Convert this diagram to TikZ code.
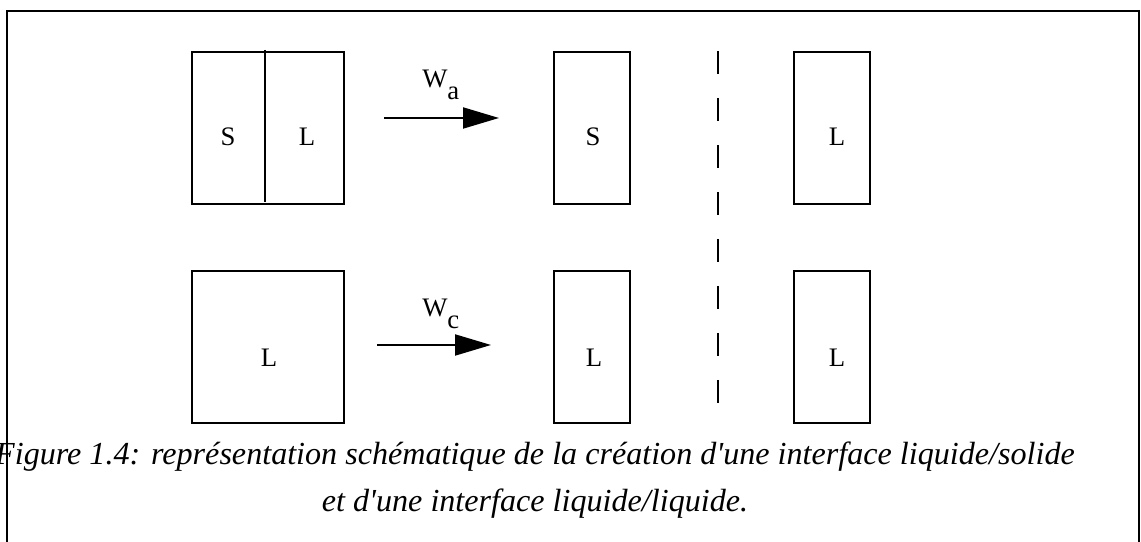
\documentclass[tikz,border=0pt]{standalone}
\usepackage{fontspec}
\setmainfont{Liberation Serif}
\usetikzlibrary{arrows.meta}

\begin{document}
\begin{tikzpicture}[box/.style={draw,line width=1.4pt,minimum height=3.8cm,inner sep=0pt},
  wide/.style={box,minimum width=3.8cm},
  narrow/.style={box,minimum width=1.9cm},
  lbl/.style={font=\fontsize{19}{22}\selectfont,inner sep=0pt},
  work/.style={font=\fontsize{19}{22}\selectfont,inner sep=0pt,anchor=base west},
  flow/.style={line width=1.4pt,-{Triangle[length=0.9cm,width=0.525cm]}},
  cutline/.style={line width=1.4pt,dash pattern=on 0.575cm off 0.6cm},
  legend/.style={font=\itshape\fontsize{22.85}{33}\selectfont,inner sep=0pt,anchor=base}]

\useasboundingbox (0,0) rectangle (28.525,13.55);
\draw[line width=1.6pt] (0.175,-0.5) -- (0.175,13.275) -- (28.475,13.275) -- (28.475,-0.5);

\node[wide] (SL) at (6.7,10.34) {};
\node[narrow] (S) at (14.79,10.34) {};
\node[narrow] (L) at (20.8,10.34) {};
\node[wide] (LL) at (6.7,4.88) {};
\node[narrow] (Lm) at (14.79,4.88) {};
\node[narrow] (Lr) at (20.8,4.88) {};

\draw[line width=1.4pt] (6.625,12.3) -- (6.625,8.5);

\node[lbl] (s1) at (5.7,10.125) {S};
\node[lbl] (l1) at (7.675,10.125) {L};
\node[lbl] (s2) at (14.825,10.125) {S};
\node[lbl] (l2) at (20.925,10.125) {L};
\node[lbl] (l3) at (6.725,4.6) {L};
\node[lbl] (l4) at (14.85,4.6) {L};
\node[lbl] (l5) at (20.925,4.6) {L};

\coordinate (wa0) at (9.6,10.6);
\coordinate (wa1) at (12.475,10.6);
\coordinate (wc0) at (9.425,4.925);
\coordinate (wc1) at (12.275,4.925);
\draw[flow] (wa0) -- (wa1);
\draw[flow] (wc0) -- (wc1);
\node[work] (Wa) at (10.55,11.35) {W\raisebox{-8.5pt}{a}};
\node[work] (Wc) at (10.55,5.625) {W\raisebox{-8.5pt}{c}};

\coordinate (cut0) at (17.95,12.275);
\coordinate (cut1) at (17.95,3.3);
\draw[cutline] (cut0) -- (cut1);

\node[legend] (cap1) at (13.375,1.925) {Figure 1.4: représentation schématique de la création d\textquotesingle une interface liquide/solide};
\node[legend] (cap2) at (13.375,0.75) {et d\textquotesingle une interface liquide/liquide.};

\end{tikzpicture}
\end{document}
